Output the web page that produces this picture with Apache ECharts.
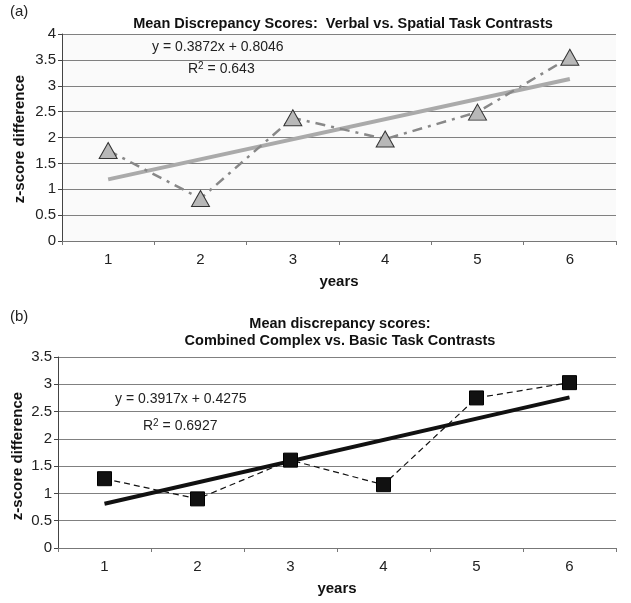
<!DOCTYPE html>
<html><head><meta charset="utf-8">
<script src="https://cdn.jsdelivr.net/npm/echarts@6/dist/echarts.min.js"></script>
<style>html,body{margin:0;padding:0;background:#fff}#c{width:631px;height:603px}</style>
</head><body><div id="c"></div>
<script>
const years = ['1','2','3','4','5','6'];
const verbalSpatial = [1.75, 0.82, 2.38, 1.97, 2.49, 3.55];
const verbalTrend = [['1', 1.19], ['6', 3.13]];
const complexBasic = [1.27, 0.90, 1.61, 1.16, 2.75, 3.03];
const complexTrend = [['1', 0.81], ['6', 2.76]];
const yTicksTop = {min: 0, max: 4, interval: 0.5};
const yTicksBottom = {min: 0, max: 3.5, interval: 0.5};

const F = 'Liberation Sans, Arial, sans-serif';
const chart = echarts.init(document.getElementById('c'), null, {renderer: 'canvas'});

function xAxis(gi) {
  return {
    type: 'category', gridIndex: gi, data: years, boundaryGap: true,
    name: 'years', nameLocation: 'middle', nameGap: 33,
    nameTextStyle: {fontFamily: F, fontSize: 15, fontWeight: 'bold', color: '#111'},
    axisLine: {lineStyle: {color: '#777', width: 1}},
    axisTick: {show: true, length: 4, lineStyle: {color: '#777'}},
    axisLabel: {fontFamily: F, fontSize: 15, color: '#222', margin: 11},
    splitLine: {show: false}
  };
}
function yAxis(gi, t) {
  return {
    type: 'value', gridIndex: gi, min: t.min, max: t.max, interval: t.interval,
    axisLine: {show: true, lineStyle: {color: '#444', width: 1}},
    axisTick: {show: true, length: 4, lineStyle: {color: '#444'}},
    axisLabel: {fontFamily: F, fontSize: 15, color: '#222', margin: 6},
    splitLine: {show: true, lineStyle: {color: '#808080', width: 1}}
  };
}
const nameStyle = {text: 'z-score difference', font: 'bold 15px ' + F, fill: '#111', align: 'center', verticalAlign: 'middle'};

chart.setOption({
  animation: false,
  backgroundColor: '#fff',
  title: [
    {text: 'Mean Discrepancy Scores:  Verbal vs. Spatial Task Contrasts', left: 338, top: 11, textAlign: 'center',
     textStyle: {fontFamily: F, fontSize: 14.5, fontWeight: 'bold', color: '#111'}},
    {text: 'Mean discrepancy scores:\nCombined Complex vs. Basic Task Contrasts', left: 335, top: 310, textAlign: 'center',
     textStyle: {fontFamily: F, fontSize: 14.5, fontWeight: 'bold', color: '#111', lineHeight: 17}}
  ],
  grid: [
    {left: 62, right: 15, top: 34, height: 207, show: true, backgroundColor: '#fafafa', borderWidth: 0, outerBoundsMode: 'none'},
    {left: 58, right: 15, top: 357, height: 191, show: false, outerBoundsMode: 'none'}
  ],
  xAxis: [xAxis(0), xAxis(1)],
  yAxis: [yAxis(0, yTicksTop), yAxis(1, yTicksBottom)],
  graphic: [
    {type: 'text', x: 20, y: 139, rotation: Math.PI / 2, style: nameStyle},
    {type: 'text', x: 18, y: 456, rotation: Math.PI / 2, style: nameStyle},
    {type: 'text', left: 10, top: 4, style: {text: '(a)', font: '15px ' + F, fill: '#222'}},
    {type: 'text', left: 10, top: 309, style: {text: '(b)', font: '15px ' + F, fill: '#222'}},
    {type: 'text', left: 152, top: 40, style: {text: 'y = 0.3872x + 0.8046', font: '14px ' + F, fill: '#222'}},
    {type: 'text', left: 188, top: 61, style: {text: '{a|R}{s|2}{a| = 0.643}', rich: {a: {font: '14px ' + F, fill: '#222'}, s: {font: '10px ' + F, fill: '#222', verticalAlign: 'top', padding: [0,0,6,0]}}}},
    {type: 'text', left: 115, top: 392, style: {text: 'y = 0.3917x + 0.4275', font: '14px ' + F, fill: '#222'}},
    {type: 'text', left: 143, top: 418, style: {text: '{a|R}{s|2}{a| = 0.6927}', rich: {a: {font: '14px ' + F, fill: '#222'}, s: {font: '10px ' + F, fill: '#222', verticalAlign: 'top', padding: [0,0,6,0]}}}}
  ],
  series: [
    {type: 'line', xAxisIndex: 0, yAxisIndex: 0, data: verbalTrend, symbol: 'none', z: 2,
     lineStyle: {color: '#aaaaaa', width: 4}},
    {type: 'line', xAxisIndex: 0, yAxisIndex: 0, data: verbalSpatial, z: 3,
     symbol: 'triangle', symbolSize: [18, 16],
     itemStyle: {color: '#b8b8b8', borderColor: '#333', borderWidth: 1},
     lineStyle: {color: '#888', width: 2.5, type: [10, 6, 3, 6]}},
    {type: 'line', xAxisIndex: 1, yAxisIndex: 1, data: complexTrend, symbol: 'none', z: 2,
     lineStyle: {color: '#111', width: 4}},
    {type: 'line', xAxisIndex: 1, yAxisIndex: 1, data: complexBasic, z: 3,
     symbol: 'rect', symbolSize: 14,
     itemStyle: {color: '#111', borderColor: '#000', borderWidth: 1},
     lineStyle: {color: '#111', width: 1.2, type: [6, 4]}}
  ]
});
</script></body></html>
